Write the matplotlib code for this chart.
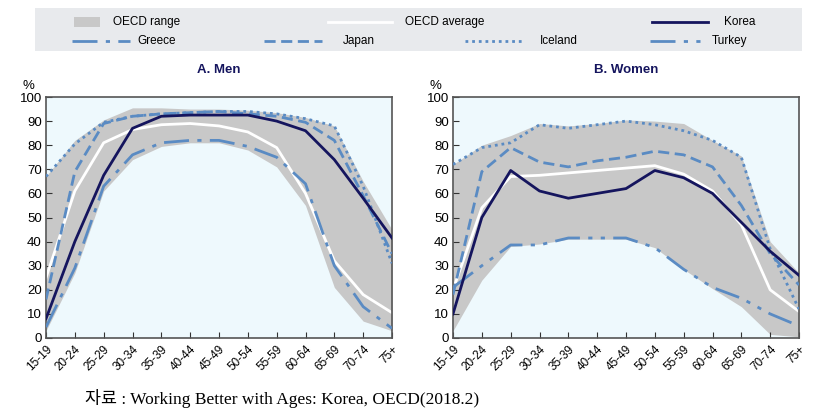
import numpy as np
import matplotlib.pyplot as plt
from matplotlib.lines import Line2D
from matplotlib.patches import Rectangle

# Age groups
ages = ["15-19", "20-24", "25-29", "30-34", "35-39", "40-44", "45-49",
        "50-54", "55-59", "60-64", "65-69", "70-74", "75+"]

# Men
men_lo = [3, 27, 61, 74, 79.5, 81, 81, 78, 71, 55, 21, 7, 3]
men_hi = [67, 82, 90.5, 95.5, 95.5, 95, 95, 94.5, 93.5, 91.5, 88, 65, 45]
men_avg = [25, 61, 81, 86.5, 88.5, 89, 88, 85.5, 79, 60, 32, 18, 10.5]
men_korea = [8, 40, 67.5, 87, 92, 92.5, 92.5, 92.5, 90, 86, 74, 58, 41.5]
men_greece = [4.5, 29, 63, 76, 81, 82, 82, 79.5, 75, 64, 30, 13, 4]
men_japan = [16, 69, 89, 92, 93, 93.5, 94, 93, 92, 89.5, 82, 59, 35]
men_iceland = [67, 80.5, 89.5, 92, 93, 93.5, 94, 94, 93, 91, 88, 63, 31]

# Women
wom_lo = [3, 24, 38, 39, 41, 41, 41, 37.5, 28.5, 20.5, 13, 1.5, 0.5]
wom_hi = [72, 80, 84, 89, 88, 89, 90.5, 90, 89, 82, 75.5, 40, 27]
wom_avg = [20, 54, 67, 67.5, 68.5, 69.5, 70.5, 71.5, 68, 61, 47, 20, 11]
wom_korea = [10, 50, 69.5, 61, 58, 60, 62, 69.5, 66.5, 60, 48, 36, 26]
wom_japan = [18, 69, 79, 73, 71, 73.5, 75, 77.5, 76, 71, 55, 35, 22]
wom_iceland = [72, 79, 81, 88.5, 87, 88.5, 90, 88.5, 86, 82, 75, 37, 12]
wom_turkey = [21, 30, 38.6, 38.6, 41.5, 41.5, 41.5, 37.5, 28.5, 21, 16.5, 10, 5]

navy = "#15155e"
blue = "#5a8bc3"
gray = "#c8c8c8"
bg = "#eef9fd"

ls_greece = (0, (9, 3, 1.5, 3))
ls_japan = (0, (4, 2))
ls_iceland = (0, (1, 1.4))
ls_turkey = (0, (9, 3, 1.5, 3, 1.5, 3))

plt.rcParams['font.family'] = ['Liberation Sans', 'DejaVu Sans']

fig = plt.figure(figsize=(8.33, 4.2), dpi=100)
x = np.arange(len(ages))


def panel(ax, title, lo, hi, avg, korea, others):
    ax.set_facecolor(bg)
    ax.fill_between(x, lo, hi, color=gray, lw=0, zorder=1)
    ax.plot(x, avg, color="white", lw=2, zorder=2)
    for vals, ls in others:
        ax.plot(x, vals, color=blue, lw=2, ls=ls, zorder=3)
    ax.plot(x, korea, color=navy, lw=2, zorder=4)
    ax.set_xlim(0, 12)
    ax.set_ylim(0, 100)
    ax.set_yticks(range(0, 101, 10))
    ax.set_xticks(x)
    ax.set_xticklabels(ages, rotation=45, ha="right", rotation_mode="anchor")
    ax.tick_params(direction="in", length=4, color="#333333", labelsize=9.5, pad=3)
    ax.tick_params(axis="x", labelsize=8.5, pad=4)
    for s in ax.spines.values():
        s.set_color("#555555")
        s.set_linewidth(1.2)
    ax.set_title(title, color=navy, fontsize=9.5, fontweight="bold", pad=17)
    ax.text(-0.05, 1.02, "%", transform=ax.transAxes, ha="center", va="bottom", fontsize=9.5)


ax1 = fig.add_axes([46 / 833, 82 / 420, 346 / 833, 241 / 420])
panel(ax1, "A. Men", men_lo, men_hi, men_avg, men_korea,
      [(men_greece, ls_greece), (men_japan, ls_japan), (men_iceland, ls_iceland)])

ax2 = fig.add_axes([453 / 833, 82 / 420, 346 / 833, 241 / 420])
panel(ax2, "B. Women", wom_lo, wom_hi, wom_avg, wom_korea,
      [(wom_turkey, ls_turkey), (wom_japan, ls_japan), (wom_iceland, ls_iceland)])

# Legend box drawn in pixel-like coordinates
lg = fig.add_axes([0, 0, 1, 1], zorder=-1)
lg.set_xlim(0, 833)
lg.set_ylim(420, 0)
lg.axis("off")
lg.add_patch(Rectangle((35, 8), 767, 43, color="#e8eaed", lw=0))
lg.add_patch(Rectangle((74, 17), 26, 10, color=gray, lw=0))
lg.text(113, 22, "OECD range", fontsize=8.5, va="center")
lg.add_line(Line2D([328, 392], [22, 22], color="white", lw=2))
lg.text(405, 22, "OECD average", fontsize=8.5, va="center")
lg.add_line(Line2D([652, 708], [22, 22], color=navy, lw=2))
lg.text(724, 22, "Korea", fontsize=8.5, va="center")
items = [(72, 137, "Greece", ls_greece), (264, 343, "Japan", ls_japan),
         (465, 540, "Iceland", ls_iceland), (650, 712, "Turkey", ls_turkey)]
for x0, tx, name, ls in items:
    lg.add_line(Line2D([x0, x0 + 58], [41, 41], color=blue, lw=2, ls=ls))
    lg.text(tx, 41, name, fontsize=8.5, va="center")

fig.text(85 / 833, 1 - 398 / 420, "자료 : Working Better with Ages: Korea, OECD(2018.2)",
         family=["Liberation Serif", "Noto Sans CJK KR"], fontsize=12.5, va="center")

fig.savefig("out.png", dpi=100)
